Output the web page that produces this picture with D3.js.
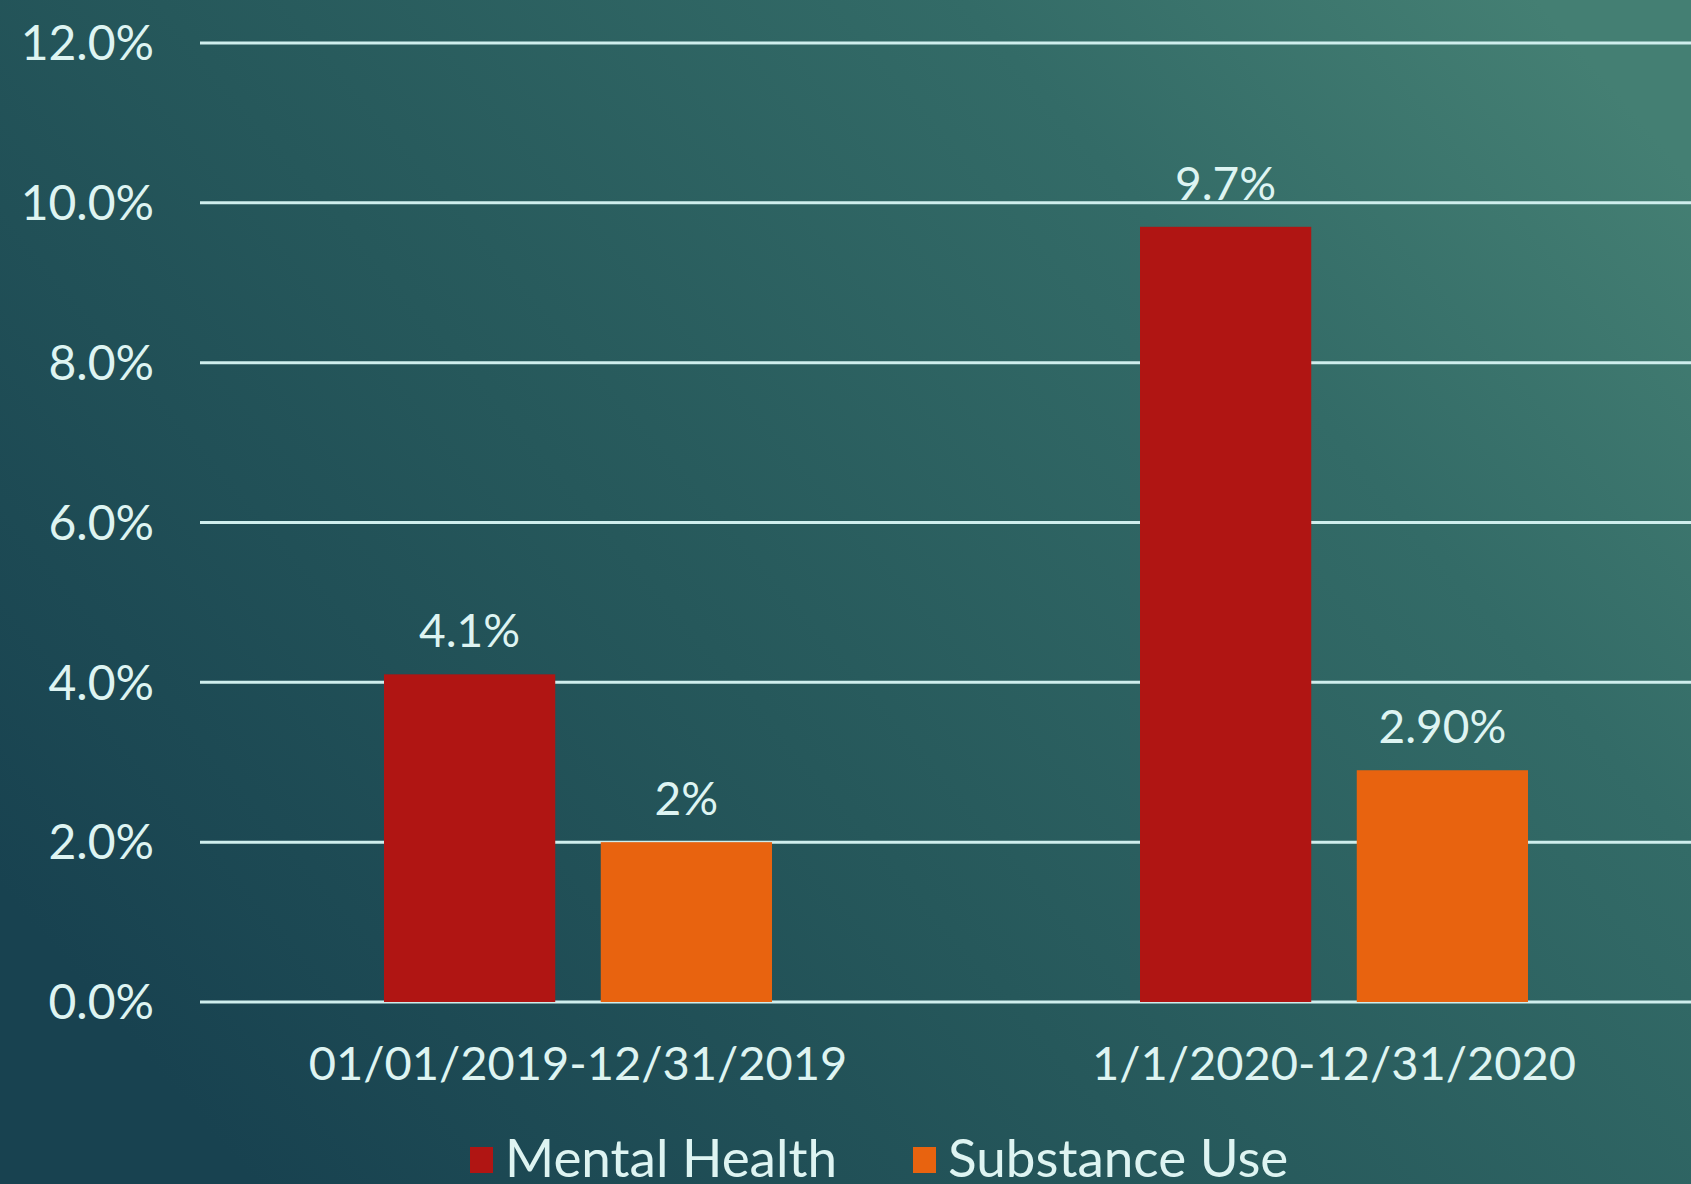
<!DOCTYPE html>
<html>
<head>
<meta charset="utf-8">
<script src="https://cdn.jsdelivr.net/npm/d3@7"></script>
<style>
  html, body { margin: 0; padding: 0; background: #1d4c5a; overflow: hidden; }
  svg { display: block; }
  .txt { fill: #def4f2; font-family: 'Lato', 'Open Sans', sans-serif; }
</style>
</head>
<body>
<div id="chart"></div>
<script>
'use strict';

// chart data
const categories = ['01/01/2019-12/31/2019', '1/1/2020-12/31/2020'];
const seriesNames = ['Mental Health', 'Substance Use'];
const mentalHealth = [4.1, 9.7];
const substanceUse = [2.0, 2.9];
const valueLabels = [['4.1%', '9.7%'], ['2%', '2.90%']];
const yTicks = [0, 2, 4, 6, 8, 10, 12];

const seriesColors = ['#b01513', '#e8630f'];

function main() {
    const width = 1691;
    const height = 1184;
    const margin = { top: 43, left: 200, bottomAxis: 1002 };
    const groupWidth = 388;

    let svg = d3.select('#chart')
        .append('svg')
        .attr('width', width)
        .attr('height', height);

    // Background gradient (dark blue on the left to teal top-right)
    let defs = svg.append('defs');
    let grad = defs.append('linearGradient')
        .attr('id', 'bg')
        .attr('x1', '0%').attr('y1', '75%')
        .attr('x2', '100%').attr('y2', '15%');
    grad.append('stop').attr('offset', '0%').attr('stop-color', '#184250');
    grad.append('stop').attr('offset', '40%').attr('stop-color', '#26585b');
    grad.append('stop').attr('offset', '75%').attr('stop-color', '#336b67');
    grad.append('stop').attr('offset', '100%').attr('stop-color', '#447f73');

    svg.append('rect')
        .attr('width', width)
        .attr('height', height)
        .attr('fill', 'url(#bg)');

    // Scales - plot runs off the right side of the picture
    let x0 = d3.scaleBand()
        .domain(categories)
        .range([margin.left, 1712]);

    let x1 = d3.scaleBand()
        .domain(seriesNames)
        .range([0, groupWidth])
        .paddingInner(0.21);

    let y = d3.scaleLinear()
        .domain([0, 12])
        .range([margin.bottomAxis, margin.top]);

    // Gridlines
    svg.append('g')
        .selectAll('line')
        .data(yTicks)
        .enter()
        .append('line')
        .attr('x1', margin.left)
        .attr('x2', width)
        .attr('y1', d => y(d))
        .attr('y2', d => y(d))
        .attr('stroke', '#cfeeed')
        .attr('stroke-width', 3);

    // Y tick labels
    svg.append('g')
        .selectAll('text')
        .data(yTicks)
        .enter()
        .append('text')
        .classed('txt', true)
        .attr('x', 154)
        .attr('y', d => y(d))
        .attr('dy', '0.36em')
        .attr('text-anchor', 'end')
        .style('font-size', '48px')
        .text(d => d3.format('.1f')(d) + '%');

    // Bars
    const seriesValues = [mentalHealth, substanceUse];
    let groups = svg.append('g')
        .selectAll('g')
        .data(categories)
        .enter()
        .append('g')
        .attr('transform', d => `translate(${x0(d) + (x0.bandwidth() - groupWidth) / 2}, 0)`);

    groups.selectAll('rect')
        .data((d, i) => seriesNames.map((s, j) => ({ series: s, j: j, value: seriesValues[j][i] })))
        .enter()
        .append('rect')
        .attr('x', d => x1(d.series))
        .attr('width', x1.bandwidth())
        .attr('y', d => y(d.value))
        .attr('height', d => y(0) - y(d.value))
        .attr('fill', d => seriesColors[d.j]);

    // Value labels
    groups.selectAll('text')
        .data((d, i) => seriesNames.map((s, j) => ({ series: s, value: seriesValues[j][i], label: valueLabels[j][i] })))
        .enter()
        .append('text')
        .classed('txt', true)
        .attr('x', d => x1(d.series) + x1.bandwidth() / 2)
        .attr('y', d => y(d.value) - 27)
        .attr('text-anchor', 'middle')
        .style('font-size', '46px')
        .text(d => d.label);

    // Category labels
    svg.append('g')
        .selectAll('text')
        .data(categories)
        .enter()
        .append('text')
        .classed('txt', true)
        .attr('x', d => x0(d) + x0.bandwidth() / 2)
        .attr('y', 1080)
        .attr('text-anchor', 'middle')
        .style('font-size', '47px')
        .text(d => d);

    // Legend (cut off at the bottom edge, as in the slide)
    const legendX = [470, 913];
    let legend = svg.append('g')
        .selectAll('g')
        .data(seriesNames)
        .enter()
        .append('g')
        .attr('transform', (d, i) => `translate(${legendX[i]}, 0)`);

    legend.append('rect')
        .attr('x', 0)
        .attr('y', 1147)
        .attr('width', 23)
        .attr('height', 26)
        .attr('fill', (d, i) => seriesColors[i]);

    legend.append('text')
        .classed('txt', true)
        .attr('x', 35)
        .attr('y', 1177)
        .style('font-size', '53px')
        .text(d => d);
}

main();
</script>
</body>
</html>
